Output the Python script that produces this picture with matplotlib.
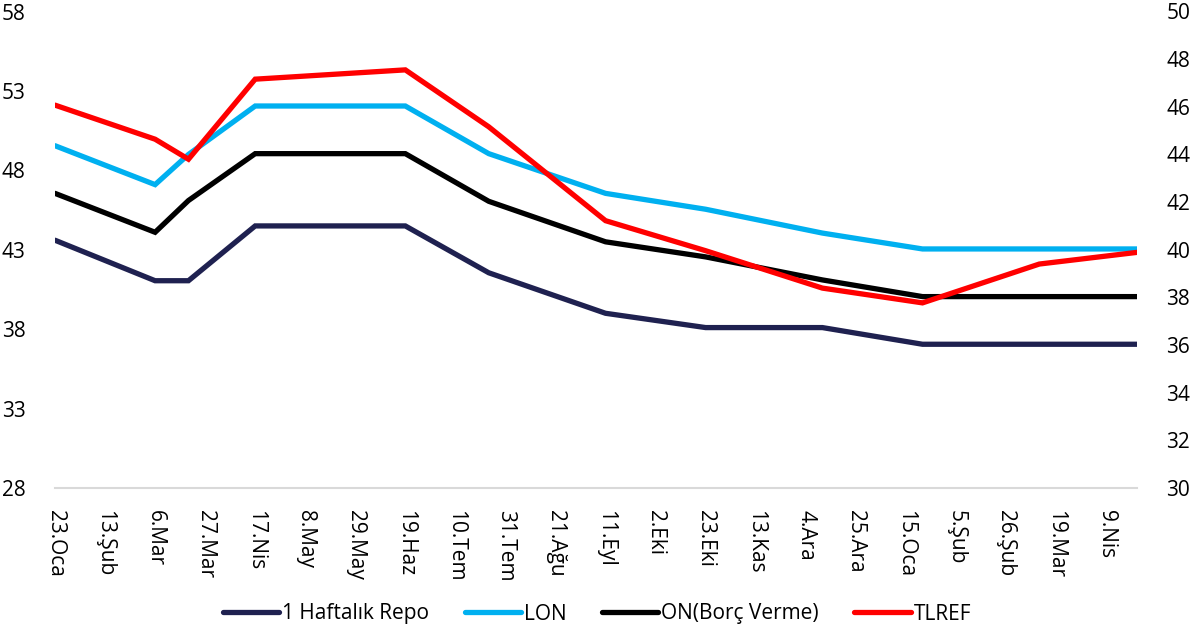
import matplotlib
matplotlib.use("Agg")
import matplotlib.pyplot as plt
import datetime as dt

plt.rcParams['font.family'] = ['Open Sans', 'DejaVu Sans']

dates = ["2025-01-23", "2025-03-06", "2025-03-20", "2025-04-17", "2025-06-19",
         "2025-07-24", "2025-09-11", "2025-10-23", "2025-12-11", "2026-01-22",
         "2026-03-12", "2026-04-22"]
repo = [43.6, 41.05, 41.05, 44.5, 44.5, 41.55, 39.0, 38.1, 38.1, 37.05, 37.05, 37.05]
lon = [49.55, 47.1, 49.0, 52.05, 52.05, 49.05, 46.55, 45.55, 44.05, 43.05, 43.05, 43.05]
on_borc = [46.55, 44.1, 46.1, 49.05, 49.05, 46.05, 43.5, 42.55, 41.1, 40.05, 40.05, 40.05]
tlref = [46.07, 44.64, 43.8, 47.16, 47.55, 45.16, 41.22, 39.96, 38.39, 37.77, 39.4, 39.89]

tick_start = "2025-01-23"
tick_step_days = 21
tick_labels = ["23.Oca", "13.Şub", "6.Mar", "27.Mar", "17.Nis", "8.May", "29.May",
               "19.Haz", "10.Tem", "31.Tem", "21.Ağu", "11.Eyl", "2.Eki", "23.Eki",
               "13.Kas", "4.Ara", "25.Ara", "15.Oca", "5.Şub", "26.Şub", "19.Mar", "9.Nis"]

left_ticks = [28, 33, 38, 43, 48, 53, 58]
right_ticks = [30, 32, 34, 36, 38, 40, 42, 44, 46, 48, 50]

x = [dt.datetime.strptime(d, "%Y-%m-%d") for d in dates]
t0 = dt.datetime.strptime(tick_start, "%Y-%m-%d")
ticks = [t0 + dt.timedelta(days=tick_step_days * i) for i in range(len(tick_labels))]

fig = plt.figure(figsize=(11.94, 6.36), dpi=100)
ax = fig.add_axes([55/1194, 1-488/636, (1137-55)/1194, (488-11.5)/636])
ax2 = ax.twinx()

lw = 3.8
kw = dict(linewidth=lw, solid_capstyle='round', solid_joinstyle='miter')
h1, = ax.plot(x, repo, color='#1F2150', label='1 Haftalık Repo', **kw)
h2, = ax.plot(x, lon, color='#00B0F0', label='LON', **kw)
h3, = ax.plot(x, on_borc, color='#000000', label='ON(Borç Verme)', **kw)
h4, = ax2.plot(x, tlref, color='#FF0000', label='TLREF', **kw)

ax.set_xlim(x[0], x[-1])
ax.set_ylim(28, 58)
ax2.set_ylim(30, 50)
ax.set_yticks(left_ticks)
ax2.set_yticks(right_ticks)
ax.set_xticks(ticks)
ax.set_xticklabels(tick_labels, rotation=270, va='top', ha='center')

for a in (ax, ax2):
    for s in ['top', 'left', 'right', 'bottom']:
        a.spines[s].set_visible(False)
    a.tick_params(length=0, labelsize=15, colors='#000000')
ax.spines['bottom'].set_visible(True)
ax.spines['bottom'].set_color('#D9D9D9')
ax.spines['bottom'].set_linewidth(1.5)
ax.tick_params(axis='y', pad=21)
ax2.tick_params(axis='y', pad=21)
ax.tick_params(axis='x', pad=16)

fig.legend(handles=[h1, h2, h3, h4], loc='center', bbox_to_anchor=(0.5, 1-614/636),
           ncol=4, frameon=False, fontsize=15, handlelength=2.7, handletextpad=0.15,
           columnspacing=1.7)

fig.savefig("out.png", dpi=100)
